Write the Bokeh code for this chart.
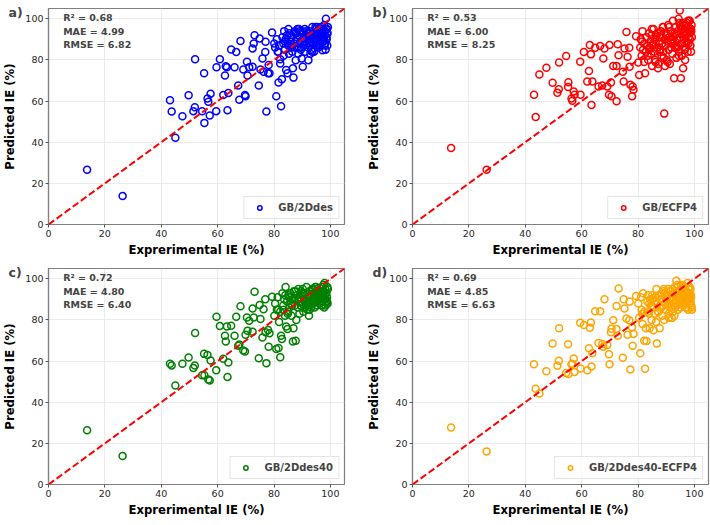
from bokeh.plotting import figure
from bokeh.models import Range1d, FixedTicker, Label, Slope
from bokeh.layouts import column, row
from bokeh.embed import file_html
from bokeh.resources import INLINE

FONT = "DejaVu Sans"

# ---------------- data ----------------
experimental_ie_low = [
    13.7, 26.3, 43.1, 43.7, 45.0, 47.5, 49.7, 51.4, 51.9, 52.0,
    54.5, 55.2, 55.3, 56.4, 56.7, 57.2, 57.5, 59.5, 59.6, 60.8,
    62.0, 62.6, 62.9, 63.3, 63.5, 63.8, 64.8, 66.0, 66.6, 67.3,
    67.7, 68.1, 69.1, 69.7, 69.9, 70.4, 70.6, 71.2, 72.4, 72.4,
    72.8, 73.1, 74.6, 74.9, 75.2, 75.9, 76.3, 76.9, 77.0, 77.3,
    77.9, 78.1, 78.4, 79.3,
]
experimental_ie_high = [
    80.1, 80.4, 80.8, 81.0, 81.3, 81.6, 81.8, 82.2, 82.2, 82.5,
    82.8, 83.0, 83.3, 83.6, 83.9, 84.1, 84.3, 84.6, 84.8, 85.0,
    85.3, 85.5, 85.8, 86.0, 86.2, 86.5, 86.7, 86.9, 87.1, 87.4,
    87.7, 87.9, 88.1, 88.4, 88.6, 88.8, 89.0, 89.3, 89.5, 89.8,
    90.0, 90.2, 90.4, 90.7, 90.9, 91.1, 91.3, 91.5, 91.8, 92.0,
    92.2, 92.4, 92.6, 92.8, 93.0, 93.2, 93.4, 93.6, 93.8, 94.0,
    94.2, 94.4, 94.6, 94.8, 95.0, 95.2, 95.4, 95.6, 95.8, 96.0,
    96.2, 96.4, 96.6, 96.8, 97.0, 97.2, 97.4, 97.6, 97.8, 98.0,
    98.2, 98.4, 98.6, 98.8, 99.0, 83.4, 85.1, 86.4, 87.6, 88.9,
    90.5, 91.6, 92.9, 93.9, 94.7, 95.5, 96.3, 97.1, 97.9, 98.7,
    81.5, 84.0, 86.1, 88.3, 89.6, 91.0, 92.3, 93.5, 94.5, 95.3,
    96.1, 96.9, 97.7, 98.4, 98.9, 89.1, 92.6, 95.9, 97.3, 98.1,
    99.1, 84.9, 87.2, 90.1, 93.1, 94.9, 96.7, 97.5, 98.3, 98.8,
]

pred_gb_2ddes = [
    26.6, 13.8, 60.4, 54.9, 42.2, 52.6, 62.8, 55.1, 57.0, 80.3,
    55.1, 73.5, 49.4, 61.2, 59.7, 53.0, 63.6, 55.1, 76.4, 80.3,
    62.9, 72.4, 76.9, 76.4, 55.5, 63.9, 85.1, 76.4, 83.8, 67.6,
    60.7, 89.2, 75.4, 62.9, 62.4, 79.1, 72.4, 76.4, 76.7, 85.6,
    88.0, 92.0, 67.6, 90.4, 75.4, 80.7, 74.3, 83.9, 88.8, 54.9,
    73.5, 77.5, 73.5, 93.3,
    88, 86, 62.3, 90, 84, 69.0, 87, 80.3, 78.3, 57.5,
    70.6, 91, 88, 94, 85, 90, 75.1, 92, 73.5, 87,
    83, 93, 89, 86, 91, 84, 75.9, 71.4, 88, 94,
    79.9, 90, 86, 92, 83, 95, 88, 91, 85, 80.7,
    93, 76.7, 89, 87, 95, 84, 91, 88, 93, 86,
    79.9, 90, 94, 87, 92, 85, 89, 96, 88, 91,
    84, 93, 90, 95, 87, 92, 89, 94, 86, 91,
    95, 88, 93, 90, 96, 84.7, 92, 89, 97, 94,
    88, 100, 91, 95, 93, 82, 95, 87, 93, 86,
    90, 94, 83, 90, 96, 88, 92, 95, 87, 90,
    84, 89, 92, 95, 86, 92, 88, 84, 92, 96,
    87, 93, 90, 95, 87, 94, 91, 93, 89, 92,
    96, 88, 86, 94, 90, 87, 96, 91, 85, 93,
]
pred_gb_ecfp4 = [
    37.2, 26.6, 63.1, 52.2, 72.9, 76.2, 68.9, 64.0, 65.8, 78.7,
    81.9, 66.9, 69.2, 61.2, 60.2, 64.7, 63.1, 79.1, 63.1, 83.9,
    69.5, 74.6, 87.2, 82.7, 58.1, 69.5, 85.9, 67.1, 86.8, 67.6,
    80.7, 85.6, 67.1, 63.1, 87.2, 69.0, 62.3, 77.0, 77.0, 59.9,
    87.6, 82.3, 74.3, 69.5, 85.6, 93.6, 81.5, 85.9, 76.7, 67.9,
    62.3, 67.1, 65.5, 91.5,
    78.7, 72.7, 86, 90, 82, 94, 85, 88, 79, 73.5,
    84, 91, 87, 80, 93, 86, 89, 83, 92, 77,
    88, 95, 84, 90, 79, 92, 86, 93, 76, 89,
    91, 85, 94, 82, 88, 96, 84, 53.9, 90, 87,
    93, 80, 89, 97, 85, 91, 78, 94, 86, 90,
    83, 99, 88, 71.1, 92, 86, 96, 81, 90, 94,
    87, 100, 84, 104, 91, 71.1, 95, 88, 93, 75.9,
    90, 97, 85, 94, 92, 88, 98, 84, 96, 91,
    99, 93, 87, 95, 97, 82, 87, 91, 84, 96,
    79, 89, 93, 86, 98, 82, 92, 97, 88, 94,
    89, 85, 80, 92, 77, 96, 90, 87, 82, 96,
    93, 86, 99, 90, 94, 81, 88, 98, 89, 95,
    91, 95, 78, 92, 86, 97, 80, 93, 99, 84,
]
pred_gb_2ddes40 = [
    26.4, 13.8, 58.7, 57.9, 48.1, 58.7, 61.7, 56.6, 57.9, 73.6,
    53.1, 63.5, 53.1, 63.0, 51.1, 50.6, 60.3, 55.5, 81.5, 77.0,
    61.1, 72.3, 69.5, 76.8, 52.3, 59.3, 77.2, 72.3, 81.5, 67.5,
    68.0, 86.7, 65.1, 64.6, 72.8, 81.2, 74.8, 79.6, 85.5, 74.3,
    81.2, 93.7, 61.4, 87.3, 80.4, 71.5, 85.2, 90.0, 74.0, 59.0,
    75.1, 67.0, 73.5, 91.3,
    82, 88, 65.9, 85, 91, 66.4, 79, 61.9, 84, 72.3,
    70.7, 93, 87, 90, 82, 96, 76.8, 89, 75.6, 84,
    91, 86, 93, 88, 82, 90, 69.5, 75.9, 94, 87,
    69.9, 80, 92, 86, 95, 89, 83, 91, 87, 93,
    88, 95, 84, 90, 86, 93, 89, 96, 85, 91,
    87, 82, 94, 89, 92, 86, 90, 95, 88, 93,
    91, 86, 96, 89, 93, 87, 95, 90, 92, 88,
    94, 89, 91, 96, 87, 93, 90, 97, 86, 92,
    95, 89, 93, 91, 88, 85, 92, 87, 94, 90,
    93, 88, 91, 95, 89, 94, 90, 92, 98, 88,
    85, 92, 88, 90, 94, 86, 91, 95, 93, 89,
    92, 87, 94, 90, 96, 91, 85, 93, 89, 90,
    95, 83, 90, 88, 92, 96, 93, 91, 87, 89,
]
pred_gb_2ddes40_ecfp4 = [
    27.7, 16.1, 58.4, 46.6, 44.2, 55.1, 68.5, 57.7, 60.1, 75.9,
    54.2, 68.2, 53.7, 58.5, 58.7, 61.3, 54.7, 78.6, 56.4, 77.5,
    55.5, 66.2, 76.2, 78.8, 57.4, 63.8, 84.2, 68.8, 84.2, 68.3,
    67.0, 90.0, 67.8, 63.3, 58.4, 74.0, 75.7, 79.9, 75.6, 86.8,
    72.3, 95.3, 61.6, 90.0, 85.5, 80.7, 72.8, 79.9, 88.9, 55.9,
    76.4, 67.5, 73.2, 91.6,
    88, 81, 63.8, 91, 85, 78, 93, 69.9, 84, 56.3,
    76, 69.8, 89, 92, 83, 76, 90, 87, 80, 92,
    86, 75, 89, 83, 91, 95, 68.6, 88, 84, 92,
    76, 90, 86, 93, 82, 89, 94, 80, 88, 91,
    85, 92, 87, 95, 83, 90, 88, 94, 86, 81,
    91, 84, 93, 88, 96, 86, 90, 99, 87, 92,
    85, 94, 89, 91, 86, 97, 88, 93, 90, 95,
    87, 92, 96, 89, 94, 86, 91, 98, 85, 93,
    90, 88, 95, 92, 86, 84, 90, 79, 92, 87,
    89, 94, 82, 97, 88, 93, 91, 86, 95, 89,
    83, 88, 91, 86, 93, 81, 95, 89, 92, 90,
    96, 88, 93, 91, 87, 95, 90, 97, 89, 92,
    85, 87, 84, 90, 94, 88, 92, 90, 96, 91,
]

experimental_ie = experimental_ie_low + experimental_ie_high

panel_letters = ["a)", "b)", "c)", "d)"]
model_names = ["GB/2Ddes", "GB/ECFP4", "GB/2Ddes40", "GB/2Ddes40-ECFP4"]
r2_values = ["0.68", "0.53", "0.72", "0.69"]
mae_values = ["4.99", "6.00", "4.80", "4.85"]
rmse_values = ["6.82", "8.25", "6.40", "6.63"]
predictions = [pred_gb_2ddes, pred_gb_ecfp4, pred_gb_2ddes40, pred_gb_2ddes40_ecfp4]
tick_values = [0, 20, 40, 60, 80, 100]
colors = ["#0000ff", "#ff0000", "#008000", "#ffa500"]

FRAME_W, FRAME_H = 296, 216


def make_panel(i, border_right, border_top, border_bottom):
    p = figure(
        frame_width=FRAME_W, frame_height=FRAME_H,
        x_range=Range1d(0, 105), y_range=Range1d(0, 105),
        output_backend="svg", toolbar_location=None,
        min_border_left=40, min_border_right=border_right,
        min_border_top=border_top, min_border_bottom=border_bottom,
        background_fill_color="white", border_fill_color="white",
    )
    p.outline_line_color = "#808080"
    p.outline_line_width = 1.2
    p.outline_line_alpha = 1.0

    # panel letter drawn as the plot title, pulled to the left of the axis
    p.title.text = panel_letters[i]
    p.title.align = "left"
    p.title.vertical_align = "bottom"
    p.title.offset = -40
    p.title.standoff = -23
    p.title.text_font = FONT
    p.title.text_font_style = "bold"
    p.title.text_font_size = "12.5px"

    for ax in (p.xaxis[0], p.yaxis[0]):
        ax.ticker = FixedTicker(ticks=tick_values)
        ax.axis_line_color = "#808080"
        ax.axis_line_width = 1.2
        ax.major_tick_line_color = "#555555"
        ax.major_tick_in = 0
        ax.major_tick_out = 3
        ax.minor_tick_line_color = None
        ax.major_label_text_font = FONT
        ax.major_label_text_font_size = "9.5px"
        ax.major_label_text_color = "#262626"
        ax.major_label_standoff = 2
        ax.axis_label_text_font = FONT
        ax.axis_label_text_font_style = "bold"
        ax.axis_label_text_font_size = "11.7px"
        ax.axis_label_text_color = "black"
    p.xaxis.axis_label = "Exprerimental IE (%)"
    p.yaxis.axis_label = "Predicted IE (%)"
    p.xaxis.axis_label_standoff = 3
    p.yaxis.axis_label_standoff = 5

    p.grid.grid_line_color = "#e6e6e6"
    p.grid.grid_line_width = 0.8
    p.xgrid.ticker = FixedTicker(ticks=tick_values)
    p.ygrid.ticker = FixedTicker(ticks=tick_values)

    p.scatter(experimental_ie, predictions[i], marker="circle", size=7,
              fill_color=None, line_color=colors[i], line_width=1.5,
              legend_label=model_names[i])

    p.add_layout(Slope(gradient=1, y_intercept=0, line_color="#ff0000",
                       line_width=2, line_dash="7 3"))

    stats = ["R\u00b2 = " + r2_values[i], "MAE = " + mae_values[i],
             "RMSE = " + rmse_values[i]]
    for txt, yy in zip(stats, [100.6, 93.7, 87.3]):
        p.add_layout(Label(x=5.2, y=yy, text=txt, text_font=FONT,
                           text_font_style="bold", text_font_size="9.5px",
                           text_baseline="middle", text_align="left"))

    lg = p.legend[0]
    lg.location = "bottom_right"
    lg.margin = 5
    lg.padding = 5
    lg.spacing = 0
    lg.glyph_width = 20
    lg.glyph_height = 11
    lg.label_height = 11
    lg.label_standoff = 9
    lg.label_text_font = FONT
    lg.label_text_font_style = "bold"
    lg.label_text_font_size = "10px"
    lg.border_line_color = "#cccccc"
    lg.border_line_width = 1
    lg.background_fill_alpha = 0.8
    return p


pa = make_panel(0, 20, 8, 36)
pb = make_panel(1, 2, 8, 36)
pc = make_panel(2, 20, 8, 34)
pd_ = make_panel(3, 2, 8, 34)

layout = column(row(pa, pb), row(pc, pd_))

open("out.html", "w").write(file_html(layout, INLINE))
